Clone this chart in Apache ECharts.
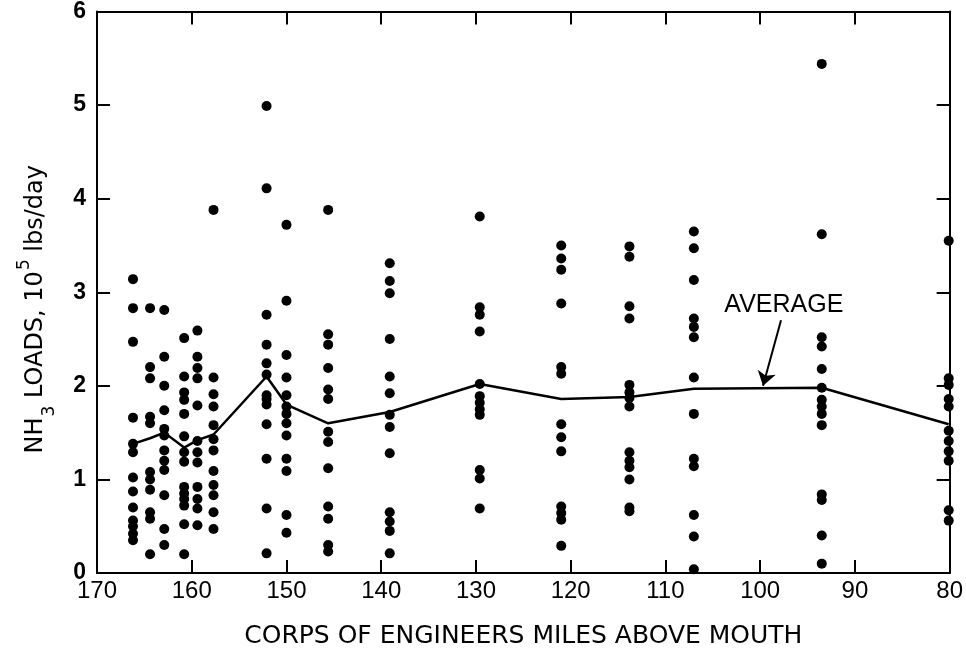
<!DOCTYPE html>
<html>
<head>
<meta charset="utf-8">
<script src="https://cdn.jsdelivr.net/npm/echarts@6/dist/echarts.min.js"></script>
<style>
  html, body { margin: 0; padding: 0; background: #fff; }
  #chart { width: 966px; height: 654px; }
</style>
</head>
<body>
<div id="chart"></div>
<script>
// Sampling stations, Corps of Engineers river miles above the mouth
const stationMiles = [166.2, 164.4, 162.9, 160.8, 159.4, 157.7, 152.1, 150.0,
                      145.6, 139.1, 129.6, 121.0, 113.8, 107.0, 93.5, 80.1];

// Individual NH3 load observations at each station (10^5 lbs/day)
const loadsByStation = [
  [3.14, 2.83, 2.47, 1.66, 1.38, 1.29, 1.02, 0.87, 0.70, 0.56, 0.50, 0.42, 0.35],
  [2.83, 2.20, 2.08, 1.67, 1.60, 1.08, 1.00, 0.89, 0.65, 0.58, 0.20],
  [2.81, 2.31, 2.00, 1.74, 1.54, 1.47, 1.31, 1.20, 1.10, 0.83, 0.47, 0.30],
  [2.51, 2.10, 1.93, 1.85, 1.70, 1.46, 1.29, 1.19, 0.92, 0.85, 0.79, 0.72, 0.52, 0.20],
  [2.59, 2.31, 2.19, 2.08, 1.79, 1.41, 1.29, 1.18, 0.92, 0.79, 0.69, 0.51],
  [3.88, 2.09, 1.91, 1.78, 1.58, 1.43, 1.31, 1.09, 0.94, 0.83, 0.65, 0.47],
  [4.99, 4.11, 2.76, 2.44, 2.24, 2.12, 1.90, 1.86, 1.80, 1.59, 1.22, 0.69, 0.21],
  [3.72, 2.91, 2.33, 2.09, 1.90, 1.78, 1.70, 1.60, 1.47, 1.22, 1.09, 0.62, 0.43],
  [3.88, 2.55, 2.44, 2.19, 1.96, 1.86, 1.51, 1.40, 1.12, 0.71, 0.58, 0.30, 0.23],
  [3.31, 3.12, 2.99, 2.50, 2.10, 1.92, 1.69, 1.56, 1.28, 0.65, 0.55, 0.45, 0.21],
  [3.81, 2.84, 2.76, 2.58, 2.02, 1.89, 1.82, 1.75, 1.69, 1.10, 1.01, 0.69],
  [3.50, 3.36, 3.24, 2.88, 2.20, 2.13, 1.59, 1.45, 1.30, 0.71, 0.64, 0.57, 0.29],
  [3.49, 3.38, 2.85, 2.72, 2.01, 1.93, 1.87, 1.78, 1.29, 1.20, 1.13, 1.00, 0.70, 0.66],
  [3.65, 3.47, 3.13, 2.72, 2.63, 2.52, 2.09, 1.70, 1.22, 1.14, 0.62, 0.39, 0.04],
  [5.44, 3.62, 2.52, 2.42, 2.18, 1.98, 1.85, 1.78, 1.70, 1.58, 0.84, 0.78, 0.40, 0.10],
  [3.55, 2.08, 2.01, 1.86, 1.78, 1.52, 1.41, 1.30, 1.20, 0.67, 0.56]
];

// Station averages (10^5 lbs/day)
const averageLoads = [1.38, 1.44, 1.50, 1.34, 1.42, 1.48, 2.10, 1.80,
                      1.60, 1.72, 2.02, 1.86, 1.88, 1.97, 1.98, 1.59];

// Axis ranges and steps
const xRange = [80, 170], xStep = 10;
const yRange = [0, 6], yStep = 1;

// Callout for the average curve: label anchor, arrow tail and arrow head (miles, load)
const calloutText = 'AVERAGE';
const calloutLabelAt = [97.5, 2.86];
const calloutArrow = [[97.8, 2.70], [99.7, 2.0]];

const scatterPoints = [];
stationMiles.forEach((m, i) => loadsByStation[i].forEach(v => scatterPoints.push([m, v])));
const averagePoints = stationMiles.map((m, i) => [m, averageLoads[i]]);

const INK = '#000';
const FONT = '"Liberation Sans", Arial, Helvetica, sans-serif';
const WIDE = '"DejaVu Sans", "Liberation Sans", sans-serif';

function frameAxis(extra) {
  return Object.assign({
    axisLine: { show: true, onZero: false, lineStyle: { color: INK, width: 2 } },
    axisTick: { show: true, inside: true, length: 13, lineStyle: { color: INK, width: 2 } },
    splitLine: { show: false },
    axisLabel: { show: false }
  }, extra);
}

const chart = echarts.init(document.getElementById('chart'), null, { renderer: 'canvas' });
chart.setOption({
  animation: false,
  backgroundColor: '#fff',
  grid: { left: 97, right: 11, top: 9, bottom: 81 },
  xAxis: [
    frameAxis({
      type: 'value', position: 'bottom', inverse: true,
      min: xRange[0], max: xRange[1], interval: xStep,
      axisLabel: { show: true, color: INK, fontFamily: FONT, fontSize: 24, margin: 6 },
      name: 'CORPS OF ENGINEERS MILES ABOVE MOUTH',
      nameLocation: 'middle', nameGap: 51,
      nameTextStyle: { color: INK, fontFamily: WIDE, fontSize: 25 }
    }),
    frameAxis({
      type: 'value', position: 'top', inverse: true,
      min: xRange[0], max: xRange[1], interval: xStep
    })
  ],
  yAxis: [
    frameAxis({
      type: 'value', position: 'left',
      min: yRange[0], max: yRange[1], interval: yStep,
      axisLabel: { show: true, color: INK, fontFamily: FONT, fontSize: 23, fontWeight: 'bold', margin: 11 },
      name: '{b|NH}{s|3}{b| LOADS, 10}{p|5}{b| lbs/day}',
      nameLocation: 'middle', nameRotate: 90, nameGap: 44,
      nameTextStyle: {
        color: INK, fontFamily: WIDE, padding: [0, 34, 0, 0],
        rich: {
          b: { fontSize: 24, fontFamily: WIDE, color: INK, lineHeight: 34, verticalAlign: 'middle' },
          s: { fontSize: 17, fontFamily: WIDE, color: INK, lineHeight: 34, verticalAlign: 'bottom', padding: [0, 0, -5, 1] },
          p: { fontSize: 17, fontFamily: WIDE, color: INK, lineHeight: 34, verticalAlign: 'top', padding: [-3, 0, 0, 1] }
        }
      }
    }),
    frameAxis({
      type: 'value', position: 'right',
      min: yRange[0], max: yRange[1], interval: yStep
    })
  ],
  series: [
    {
      type: 'scatter',
      data: scatterPoints,
      symbol: 'circle',
      symbolSize: 10,
      itemStyle: { color: INK, opacity: 1 },
      silent: true,
      z: 3
    },
    {
      type: 'line',
      data: averagePoints,
      showSymbol: false,
      symbol: 'none',
      lineStyle: { color: INK, width: 2.5 },
      silent: true,
      z: 4,
      markLine: {
        silent: true,
        symbol: ['none', 'arrow'],
        symbolSize: 14,
        lineStyle: { color: INK, width: 2, type: 'solid' },
        itemStyle: { color: INK },
        label: { show: false },
        data: [[{ coord: calloutArrow[0] }, { coord: calloutArrow[1] }]]
      },
      markPoint: {
        silent: true,
        symbol: 'circle',
        symbolSize: 0,
        data: [{
          coord: calloutLabelAt,
          label: {
            show: true, formatter: calloutText, position: 'inside',
            color: INK, fontFamily: FONT, fontSize: 25
          }
        }]
      }
    }
  ]
});
</script>
</body>
</html>
